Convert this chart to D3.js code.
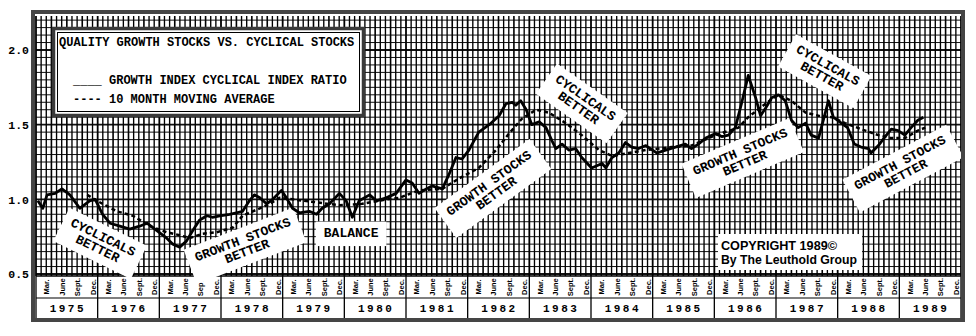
<!DOCTYPE html>
<html lang="en">
<head>
<meta charset="UTF-8">
<title>Quality Growth Stocks vs. Cyclical Stocks</title>
<style>
  body { margin: 0; background: #fff; }
  svg { display: block; }
  .mono { font-family: 'Liberation Mono', 'DejaVu Sans Mono', monospace; font-weight: bold; }
  .sans { font-family: 'Liberation Sans Narrow', 'Liberation Sans', Arial, sans-serif; font-weight: bold; }
</style>
</head>
<body>
<div id="chart"></div>
<script src="https://cdn.jsdelivr.net/npm/d3@7/dist/d3.min.js"></script>
<script>
// ---- data ----
const years = d3.range(1975, 1990);
const quarterLabels = ['Mar.', 'June', 'Sept.', 'Dec.'];
const yTicks = [0.5, 1.0, 1.5, 2.0];

// growth index / cyclical index ratio
const ratioDates = [
  1975.03, 1975.11, 1975.18, 1975.31, 1975.42, 1975.55, 1975.71, 1975.87, 1975.96, 1976.08,
  1976.20, 1976.36, 1976.52, 1976.68, 1976.80, 1976.96, 1977.12, 1977.22, 1977.33, 1977.44,
  1977.54, 1977.65, 1977.77, 1977.86, 1977.98, 1978.14, 1978.25, 1978.35, 1978.46, 1978.54,
  1978.63, 1978.74, 1978.84, 1978.98, 1979.06, 1979.16, 1979.27, 1979.43, 1979.55, 1979.64,
  1979.76, 1979.92, 1980.03, 1980.13, 1980.24, 1980.41, 1980.52, 1980.68, 1980.84, 1981.00,
  1981.10, 1981.21, 1981.33, 1981.42, 1981.59, 1981.70, 1981.81, 1981.91, 1982.02, 1982.18,
  1982.35, 1982.51, 1982.62, 1982.72, 1982.78, 1982.86, 1982.95, 1983.04, 1983.16, 1983.27,
  1983.37, 1983.43, 1983.53, 1983.64, 1983.75, 1983.85, 1984.01, 1984.18, 1984.24, 1984.34,
  1984.45, 1984.56, 1984.66, 1984.77, 1984.89, 1985.07, 1985.21, 1985.37, 1985.53, 1985.63,
  1985.74, 1985.86, 1986.02, 1986.12, 1986.23, 1986.34, 1986.44, 1986.55, 1986.67, 1986.75,
  1986.83, 1986.93, 1987.04, 1987.15, 1987.25, 1987.36, 1987.48, 1987.57, 1987.69, 1987.80,
  1987.85, 1987.93, 1988.06, 1988.16, 1988.27, 1988.38, 1988.50, 1988.54, 1988.66, 1988.77,
  1988.87, 1988.98, 1989.09, 1989.19, 1989.30, 1989.39
];
const ratioValues = [
  0.99, 0.94, 1.03, 1.04, 1.07, 1.03, 0.94, 0.99, 1.00, 0.90,
  0.84, 0.82, 0.80, 0.82, 0.84, 0.79, 0.74, 0.70, 0.68, 0.72,
  0.79, 0.86, 0.89, 0.88, 0.89, 0.90, 0.91, 0.92, 0.99, 1.03,
  1.01, 0.97, 1.00, 1.06, 1.01, 0.94, 0.91, 0.92, 0.90, 0.94,
  0.97, 1.04, 0.99, 0.88, 0.99, 1.03, 0.99, 1.01, 1.04, 1.13,
  1.11, 1.04, 1.07, 1.09, 1.07, 1.17, 1.28, 1.27, 1.33, 1.45,
  1.50, 1.56, 1.64, 1.65, 1.63, 1.66, 1.60, 1.50, 1.52, 1.48,
  1.39, 1.34, 1.37, 1.33, 1.34, 1.28, 1.21, 1.24, 1.21, 1.28,
  1.31, 1.38, 1.35, 1.34, 1.36, 1.31, 1.33, 1.35, 1.37, 1.34,
  1.37, 1.41, 1.44, 1.42, 1.43, 1.48, 1.64, 1.83, 1.68, 1.56,
  1.61, 1.68, 1.70, 1.66, 1.53, 1.48, 1.51, 1.43, 1.41, 1.58,
  1.66, 1.55, 1.51, 1.48, 1.37, 1.35, 1.34, 1.31, 1.36, 1.42,
  1.47, 1.46, 1.43, 1.48, 1.53, 1.55
];

// 10 month moving average
const avgDates = [
  1975.83, 1975.99, 1976.31, 1976.57, 1976.85, 1977.12, 1977.33, 1977.49, 1977.70, 1977.93,
  1978.19, 1978.35, 1978.63, 1978.79, 1978.95, 1979.16, 1979.55, 1979.92, 1980.29, 1980.68,
  1980.89, 1981.21, 1981.59, 1981.86, 1982.18, 1982.46, 1982.67, 1982.88, 1983.11, 1983.32,
  1983.59, 1983.85, 1984.13, 1984.34, 1984.61, 1984.89, 1985.31, 1985.63, 1986.02, 1986.39,
  1986.55, 1986.83, 1987.04, 1987.25, 1987.48, 1987.69, 1987.90, 1988.12, 1988.45, 1988.66,
  1988.87, 1989.09, 1989.30, 1989.42
];
const avgValues = [
  1.03, 0.99, 0.92, 0.89, 0.82, 0.78, 0.76, 0.74, 0.77, 0.78,
  0.81, 0.89, 0.94, 0.97, 1.01, 1.00, 0.98, 0.96, 0.97, 1.00,
  1.01, 1.06, 1.07, 1.14, 1.21, 1.33, 1.44, 1.54, 1.60, 1.58,
  1.51, 1.43, 1.33, 1.29, 1.31, 1.33, 1.35, 1.36, 1.43, 1.48,
  1.55, 1.64, 1.70, 1.66, 1.58, 1.56, 1.55, 1.51, 1.46, 1.43,
  1.41, 1.41, 1.46, 1.48
];

// pasted-on notes, anchored in data coordinates
const notes = [
  { lines: ['CYCLICALS', 'BETTER'], t: 1976.04, v: 0.705, angle: 26 },
  { lines: ['GROWTH STOCKS', 'BETTER'], t: 1978.39, v: 0.688, angle: -21 },
  { lines: ['BALANCE'], t: 1980.11, v: 0.769, angle: 0 },
  { lines: ['GROWTH STOCKS', 'BETTER'], t: 1982.41, v: 1.072, angle: -36 },
  { lines: ['CYCLICALS', 'BETTER'], t: 1983.85, v: 1.643, angle: 35 },
  { lines: ['GROWTH STOCKS', 'BETTER'], t: 1986.46, v: 1.277, angle: -23 },
  { lines: ['CYCLICALS', 'BETTER'], t: 1987.79, v: 1.858, angle: 29 },
  { lines: ['GROWTH STOCKS', 'BETTER'], t: 1989.06, v: 1.206, angle: -28 }
];

// ---- layout ----
const width = 976, height = 336;
const plot = { left: 36, right: 961, top: 16, bottom: 276 };
const monthRow = { top: 276, bottom: 298 };
const yearRow = { top: 298, bottom: 318 };

const svg = d3.select('#chart').append('svg')
  .attr('width', width)
  .attr('height', height);

const x = d3.scaleLinear().domain([1975, 1990]).range([plot.left, plot.right]);
const y = d3.scaleLinear().domain([0.5, 2.0]).range([274, 50]);

// grid: horizontal every 0.05, vertical every month
const grid = svg.append('g');
const hVals = d3.range(10, 45).map(i => +(i * 0.05).toFixed(2));
grid.selectAll('.h').data(hVals).enter().append('line')
  .attr('x1', plot.left).attr('x2', plot.right)
  .attr('y1', d => y(d)).attr('y2', d => y(d))
  .attr('stroke', '#111')
  .attr('stroke-width', d => (Math.round(d * 100) % 50 === 0) ? 1.8 : 1.0);

const months = d3.range(0, 181);
grid.selectAll('.v').data(months).enter().append('line')
  .attr('x1', d => x(1975 + d / 12)).attr('x2', d => x(1975 + d / 12))
  .attr('y1', plot.top).attr('y2', plot.bottom)
  .attr('stroke', '#000')
  .attr('stroke-width', d => d % 12 === 0 ? 1.8 : (d % 3 === 0 ? 1.6 : 1.35));

// month & year strips
svg.append('rect')
  .attr('x', plot.left).attr('y', monthRow.top)
  .attr('width', plot.right - plot.left).attr('height', yearRow.bottom - monthRow.top)
  .attr('fill', '#fff');
svg.append('line')
  .attr('x1', plot.left).attr('x2', plot.right)
  .attr('y1', monthRow.top).attr('y2', monthRow.top)
  .attr('stroke', '#000').attr('stroke-width', 1.5);
svg.append('line')
  .attr('x1', plot.left).attr('x2', plot.right)
  .attr('y1', monthRow.bottom).attr('y2', monthRow.bottom)
  .attr('stroke', '#000').attr('stroke-width', 1.2);

svg.selectAll('.yearSep').data(years.concat([1990])).enter().append('line')
  .attr('x1', d => x(d)).attr('x2', d => x(d))
  .attr('y1', monthRow.top).attr('y2', yearRow.bottom)
  .attr('stroke', '#000').attr('stroke-width', 1.3);

const quarters = [];
years.forEach(yr => quarterLabels.forEach((q, k) => quarters.push({ yr, k, q })));
svg.selectAll('.qLabel').data(quarters).enter().append('text')
  .attr('class', 'sans')
  .attr('transform', d => `translate(${x(d.yr + (3 * d.k + 2.1) / 12)}, ${(monthRow.top + monthRow.bottom) / 2}) rotate(-90)`)
  .attr('text-anchor', 'middle')
  .attr('dominant-baseline', 'central')
  .style('font-size', '7.5px')
  .text(d => d.q);

svg.selectAll('.yLabel').data(years).enter().append('text')
  .attr('class', 'mono')
  .attr('x', d => x(d + 0.5) + 1)
  .attr('y', (yearRow.top + yearRow.bottom) / 2 + 1)
  .attr('text-anchor', 'middle')
  .attr('dominant-baseline', 'central')
  .style('font-size', '11px')
  .style('letter-spacing', '2.5px')
  .text(d => d);

// y axis labels
const yAxis = d3.axisLeft(y).tickValues(yTicks).tickFormat(d3.format('.1f')).tickSize(0).tickPadding(0);
const yAxisG = svg.append('g')
  .attr('transform', 'translate(29, 0)')
  .call(yAxis);
yAxisG.select('.domain').remove();
yAxisG.selectAll('text')
  .attr('class', 'mono')
  .style('font-size', '11.5px')
  .attr('fill', '#000');

// note boxes (paper pasted on the chart)
const charW = 7.8, lineH = 12.5;
const noteG = svg.selectAll('.note').data(notes).enter().append('g')
  .attr('transform', d => `translate(${x(d.t)}, ${y(d.v)}) rotate(${d.angle})`);
noteG.append('rect')
  .attr('x', d => -(d3.max(d.lines, l => l.length) * charW + 16) / 2)
  .attr('y', d => -(d.lines.length * lineH + 12) / 2)
  .attr('width', d => d3.max(d.lines, l => l.length) * charW + 16)
  .attr('height', d => d.lines.length * lineH + 12)
  .attr('fill', '#fff');

// series lines
const line = d3.line().x(d => x(d[0])).y(d => y(d[1]));
svg.append('path')
  .datum(d3.zip(avgDates, avgValues))
  .attr('d', line)
  .attr('fill', 'none')
  .attr('stroke', '#000')
  .attr('stroke-width', 2.5)
  .attr('stroke-dasharray', '4,3');
svg.append('path')
  .datum(d3.zip(ratioDates, ratioValues))
  .attr('d', line)
  .attr('fill', 'none')
  .attr('stroke', '#000')
  .attr('stroke-width', 2.8)
  .attr('stroke-linejoin', 'round');

// note text
noteG.selectAll('text').data(d => d.lines.map((l, i) => ({ l, i, n: d.lines.length }))).enter().append('text')
  .attr('class', 'mono')
  .attr('x', 0)
  .attr('y', d => (d.i - (d.n - 1) / 2) * lineH)
  .attr('text-anchor', 'middle')
  .attr('dominant-baseline', 'central')
  .style('font-size', '13px')
  .text(d => d.l);

// legend box
const legend = svg.append('g');
legend.append('rect')
  .attr('x', 53.5).attr('y', 28.5).attr('width', 310).attr('height', 87)
  .attr('fill', '#fff').attr('stroke', '#3a3a3a').attr('stroke-width', 3.5);
legend.append('rect')
  .attr('x', 57.5).attr('y', 32.5).attr('width', 302).attr('height', 79)
  .attr('fill', 'none').attr('stroke', '#000').attr('stroke-width', 1);
legend.append('text').attr('class', 'mono')
  .attr('x', 59).attr('y', 46).style('font-size', '12px')
  .text('QUALITY GROWTH STOCKS VS. CYCLICAL STOCKS');
legend.append('text').attr('class', 'mono')
  .attr('x', 73).attr('y', 84).style('font-size', '12px')
  .text('____ GROWTH INDEX CYCLICAL INDEX RATIO');
legend.append('text').attr('class', 'mono')
  .attr('x', 73).attr('y', 103).style('font-size', '12px')
  .text('---- 10 MONTH MOVING AVERAGE');

// copyright box
const copy = svg.append('g');
copy.append('rect')
  .attr('x', 718).attr('y', 234).attr('width', 144).attr('height', 36)
  .attr('fill', '#fff');
copy.append('text').attr('class', 'sans')
  .attr('x', 721).attr('y', 250).style('font-size', '13px')
  .attr('textLength', 116).attr('lengthAdjust', 'spacingAndGlyphs')
  .text('COPYRIGHT 1989©');
copy.append('text').attr('class', 'sans')
  .attr('x', 721).attr('y', 264).style('font-size', '13px')
  .attr('textLength', 136).attr('lengthAdjust', 'spacingAndGlyphs')
  .text('By The Leuthold Group');

// outer frame
svg.append('rect')
  .attr('x', 33).attr('y', 12).attr('width', 930).attr('height', 308)
  .attr('fill', 'none').attr('stroke', '#454545').attr('stroke-width', 4);
</script>
</body>
</html>
